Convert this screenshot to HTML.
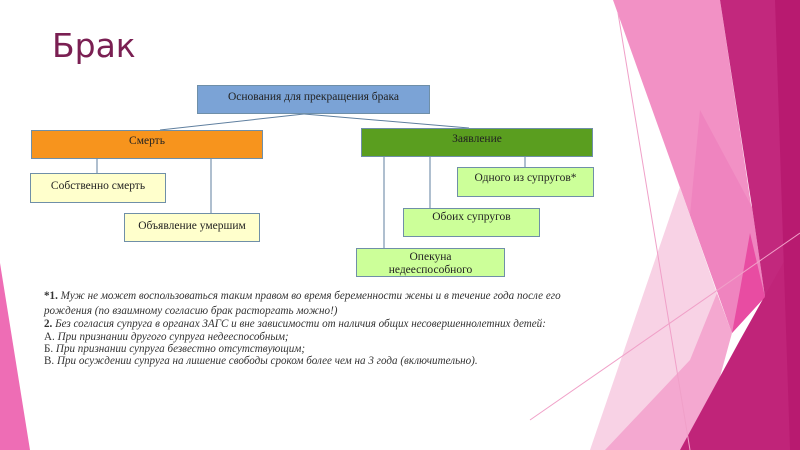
<!DOCTYPE html>
<html><head><meta charset="utf-8"><style>
html,body{margin:0;padding:0}
body{width:800px;height:450px;position:relative;overflow:hidden;background:#fff;font-family:"Liberation Serif",serif}
.b{position:absolute;box-sizing:border-box;border:1px solid #6f8fa8;text-align:center;font-size:11.5px;color:#222;line-height:1.15}
.t{position:absolute;left:44px;font-size:11.1px;color:#333;font-style:italic;white-space:nowrap}
.t b{font-style:normal}
</style></head><body>
<svg width="800" height="450" style="position:absolute;left:0;top:0">
<polygon points="0,263 30,450 0,450" fill="#ee6db5"/>
<polygon points="613,0 720,0 765,297 732,333" fill="#f291c5"/>
<polygon points="700,110 752,207 765,297 732,333 690,215" fill="#ef84bf"/>
<polygon points="680,187 717,293 690,450 590,450" fill="#f8d2e5"/>
<polygon points="717,293 732,333 700,450 605,450 690,360" fill="#f4a8d0"/>
<polygon points="720,0 800,0 800,450 793,450 765,297 752,207" fill="#c2287d"/>
<polygon points="800,233 800,450 680,450 740,340" fill="#c02479"/>
<polygon points="775,0 800,0 800,450 790,450" fill="#b81a70"/>
<polygon points="750,233 765,297 732,333 740,290" fill="#e84ca2"/>
<line x1="618" y1="13" x2="690" y2="450" stroke="#f0a0c8" stroke-width="1"/>
<line x1="530" y1="420" x2="800" y2="233" stroke="#f0a0c8" stroke-width="1"/>
<g stroke="#5f7f9f" stroke-width="1" fill="none">
<line x1="304" y1="114" x2="160" y2="130"/>
<line x1="304" y1="114" x2="469" y2="128"/>
<line x1="97" y1="159" x2="97" y2="173"/>
<line x1="211" y1="159" x2="211" y2="213"/>
<line x1="384" y1="157" x2="384" y2="248"/>
<line x1="430" y1="157" x2="430" y2="208"/>
<line x1="525" y1="157" x2="525" y2="167"/>
</g>
</svg>
<div style="position:absolute;left:52px;top:26px;font-family:'DejaVu Sans',sans-serif;font-size:33px;color:#7a1f52">Брак</div>
<div class="b" style="left:197px;top:85px;width:233px;height:29px;background:#7ba3d6;padding-top:5px">Основания для прекращения брака</div>
<div class="b" style="left:31px;top:130px;width:232px;height:29px;background:#f7941d;padding-top:4px">Смерть</div>
<div class="b" style="left:361px;top:128px;width:232px;height:29px;background:#5a9e1f;padding-top:4px">Заявление</div>
<div class="b" style="left:30px;top:173px;width:136px;height:30px;background:#ffffcc;padding-top:6px">Собственно смерть</div>
<div class="b" style="left:124px;top:213px;width:136px;height:29px;background:#ffffcc;padding-top:6px">Объявление умершим</div>
<div class="b" style="left:457px;top:167px;width:137px;height:30px;background:#ccff99;padding-top:4px">Одного из супругов*</div>
<div class="b" style="left:403px;top:208px;width:137px;height:29px;background:#ccff99;padding-top:2px">Обоих супругов</div>
<div class="b" style="left:356px;top:248px;width:149px;height:29px;background:#ccff99;padding-top:2px">Опекуна<br>недееспособного</div>
<div class="t" style="top:290px"><b>*1.</b> Муж не может воспользоваться таким правом во время беременности жены и в течение года после его</div>
<div class="t" style="top:305px">рождения (по взаимному согласию брак расторгать можно!)</div>
<div class="t" style="top:318px"><b>2.</b> Без согласия супруга в органах ЗАГС и вне зависимости от наличия общих несовершеннолетних детей:</div>
<div class="t" style="top:331px"><span style="font-style:normal">А.</span> При признании другого супруга недееспособным;</div>
<div class="t" style="top:343px"><span style="font-style:normal">Б.</span> При признании супруга безвестно отсутствующим;</div>
<div class="t" style="top:355px"><span style="font-style:normal">В.</span> При осуждении супруга на лишение свободы сроком более чем на 3 года (включительно).</div>
</body></html>
